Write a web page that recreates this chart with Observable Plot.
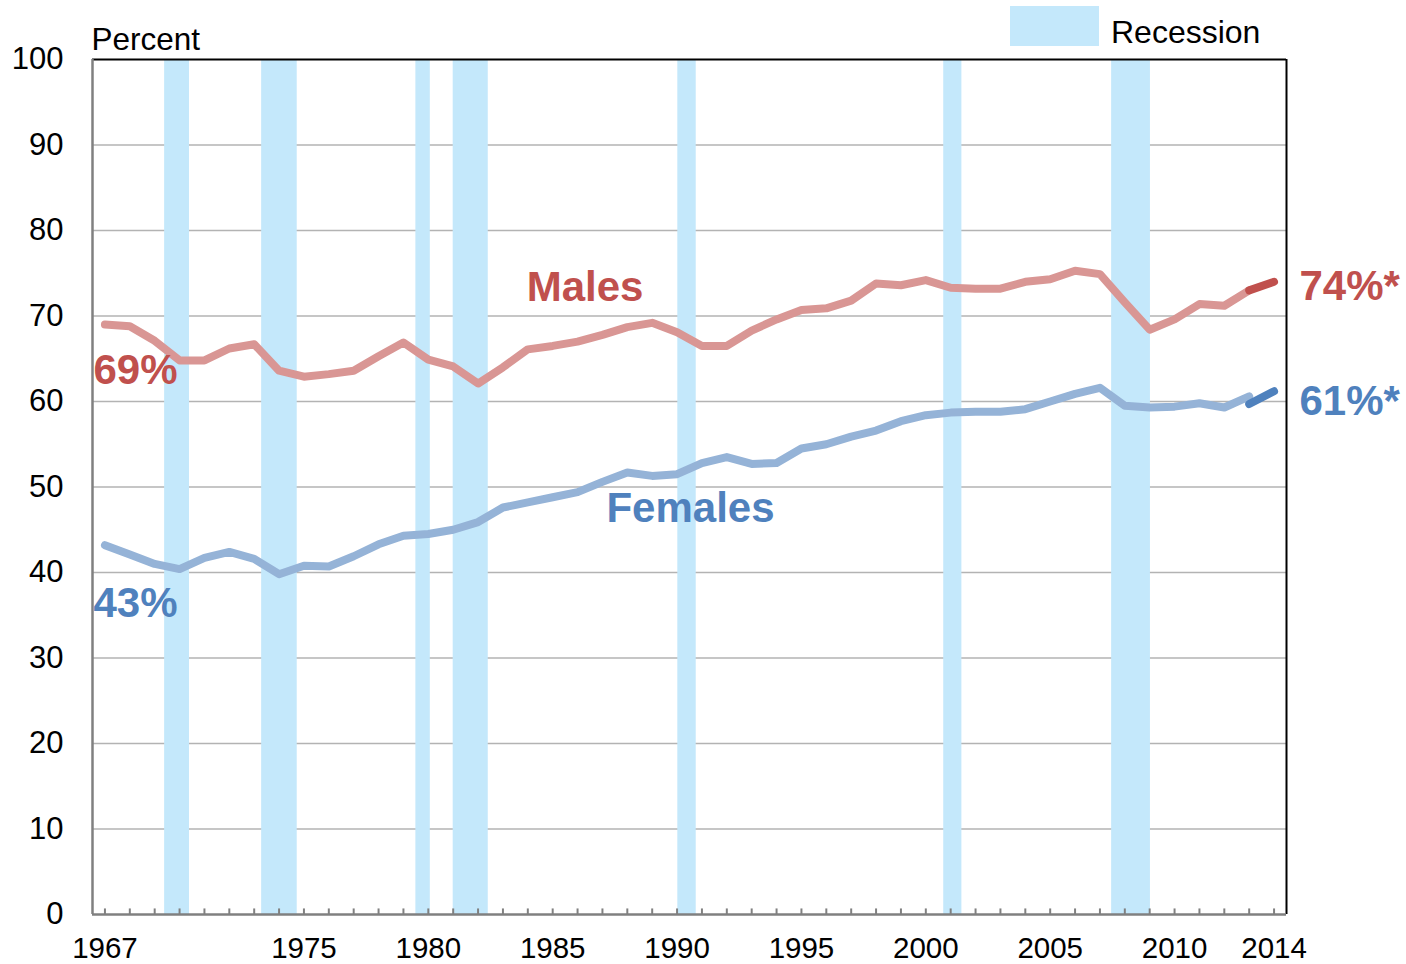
<!DOCTYPE html>
<html>
<head>
<meta charset="utf-8">
<script src="https://cdn.jsdelivr.net/npm/d3@7"></script>
<script src="https://cdn.jsdelivr.net/npm/@observablehq/plot@0.6"></script>
<style>
  html, body { margin: 0; padding: 0; background: #fff; }
  body { font-family: "Liberation Sans", Arial, sans-serif; }
  #wrap { position: relative; width: 1406px; height: 964px; }
  #legend-swatch { position: absolute; left: 1010px; top: 6px; width: 89px; height: 40px; background: #C4E8FB; }
  #legend-text { position: absolute; left: 1111px; top: 16px; font-size: 32px; line-height: 1; color: #000; white-space: nowrap; }
</style>
</head>
<body>
<div id="wrap">
  <div id="chart"></div>
  <div id="legend-swatch"></div>
  <div id="legend-text">Recession</div>
</div>
<script>
// ---- Data ----
const years = d3.range(1967, 2014); // 1967..2013
const males = [69.0, 68.8, 67.1, 64.8, 64.8, 66.2, 66.7, 63.6, 62.9, 63.2,
  63.6, 65.3, 66.9, 64.9, 64.1, 62.1, 64.0, 66.1, 66.5, 67.0,
  67.8, 68.7, 69.2, 68.1, 66.5, 66.5, 68.3, 69.6, 70.7, 70.9,
  71.8, 73.8, 73.6, 74.2, 73.3, 73.2, 73.2, 74.0, 74.3, 75.3,
  74.9, 71.6, 68.4, 69.6, 71.4, 71.2, 73.0];
const females = [43.2, 42.1, 41.0, 40.4, 41.7, 42.4, 41.6, 39.8, 40.8, 40.7,
  41.9, 43.3, 44.3, 44.5, 45.0, 45.9, 47.6, 48.2, 48.8, 49.4,
  50.6, 51.7, 51.3, 51.5, 52.8, 53.5, 52.7, 52.8, 54.5, 55.0,
  55.9, 56.6, 57.7, 58.4, 58.7, 58.8, 58.8, 59.1, 60.0, 60.9,
  61.6, 59.5, 59.3, 59.4, 59.8, 59.3, 60.6];
// Redesigned survey segment 2013-2014
const revisedYears = [2013, 2014];
const malesRevised = [73.0, 74.0];
const femalesRevised = [59.7, 61.2];

const recessionStart = [1969.4, 1973.3, 1979.5, 1981.0, 1990.03, 2000.72, 2007.47];
const recessionEnd   = [1970.4, 1974.73, 1980.08, 1982.41, 1990.77, 2001.45, 2009.03];

const xTickLabels = [1967, 1975, 1980, 1985, 1990, 1995, 2000, 2005, 2010, 2014];
const yTicks = [0, 10, 20, 30, 40, 50, 60, 70, 80, 90, 100];
const allYears = d3.range(1967, 2015);

const labelText  = ["Males", "Females", "69%", "43%", "74%*", "61%*"];
const labelYear  = [1986.3, 1990.54, 1966.54, 1966.54, 2015.02, 2015.02];
const labelValue = [71.8, 45.95, 62.05, 34.75, 71.85, 58.4];
const labelColor = ["#C0504D", "#4F81BD", "#C0504D", "#4F81BD", "#C0504D", "#4F81BD"];
const labelAnchor = ["middle", "middle", "start", "start", "start", "start"];

// ---- Tables ----
const maleRows = years.map((y, i) => ({year: y, v: males[i]}));
const femaleRows = years.map((y, i) => ({year: y, v: females[i]}));
const maleRev = revisedYears.map((y, i) => ({year: y, v: malesRevised[i]}));
const femaleRev = revisedYears.map((y, i) => ({year: y, v: femalesRevised[i]}));
const recessions = recessionStart.map((s, i) => ({start: s, end: recessionEnd[i]}));
const labels = labelText.map((t, i) => ({t, x: labelYear[i], y: labelValue[i], c: labelColor[i], a: labelAnchor[i]}));

const X0 = 1966.5, X1 = 2014.5;

const chart = Plot.plot({
  width: 1406,
  height: 964,
  marginLeft: 92,
  marginRight: 120,
  marginTop: 59,
  marginBottom: 50,
  style: {fontFamily: '"Liberation Sans", Arial, sans-serif', fontSize: "30px", color: "#000", background: "#fff", overflow: "visible"},
  x: {type: "linear", domain: [X0, X1]},
  y: {domain: [0, 100]},
  marks: [
    Plot.ruleY(yTicks.filter(d => d > 0 && d < 100), {stroke: "#b3b3b3", strokeWidth: 1.5}),
    Plot.rect(recessions, {x1: "start", x2: "end", y1: 0, y2: 100, fill: "#C4E8FB"}),
    Plot.ruleY([100], {stroke: "#000", strokeWidth: 2}),
    Plot.ruleX([X1], {stroke: "#000", strokeWidth: 2}),
    Plot.ruleX([X0], {stroke: "#808080", strokeWidth: 2.5}),
    Plot.ruleY([0], {stroke: "#808080", strokeWidth: 2.5}),
    Plot.ruleX(allYears, {x: d => d, y1: 0, y2: 0.65, stroke: "#808080", strokeWidth: 2}),
    Plot.line(maleRows, {x: "year", y: "v", stroke: "#D99694", strokeWidth: 8, strokeLinecap: "round", strokeLinejoin: "round"}),
    Plot.line(femaleRows, {x: "year", y: "v", stroke: "#95B3D7", strokeWidth: 8, strokeLinecap: "round", strokeLinejoin: "round"}),
    Plot.line(maleRev, {x: "year", y: "v", stroke: "#C0504D", strokeWidth: 8, strokeLinecap: "round"}),
    Plot.line(femaleRev, {x: "year", y: "v", stroke: "#4F81BD", strokeWidth: 8, strokeLinecap: "round"}),
    Plot.text(labels.filter(d => d.a === "middle"), {x: "x", y: "y", text: "t", fill: "c", fontSize: 42, fontWeight: "bold", textAnchor: "middle", lineAnchor: "bottom"}),
    Plot.text(labels.filter(d => d.a === "start"), {x: "x", y: "y", text: "t", fill: "c", fontSize: 42, fontWeight: "bold", textAnchor: "start", lineAnchor: "bottom"}),
    Plot.text(["Percent"], {frameAnchor: "top-left", text: d => d, dx: -1, dy: -10, lineAnchor: "bottom", textAnchor: "start", fontSize: 31.5, fill: "#000"}),
    Plot.axisY({ticks: yTicks, tickSize: 0, tickPadding: 29, fontSize: 31, label: null, tickFormat: d => String(d)}),
    Plot.axisX({ticks: xTickLabels, tickSize: 0, tickPadding: 23, fontSize: 29.5, label: null, tickFormat: d => String(d)})
  ]
});
document.getElementById("chart").appendChild(chart);
</script>
</body>
</html>
